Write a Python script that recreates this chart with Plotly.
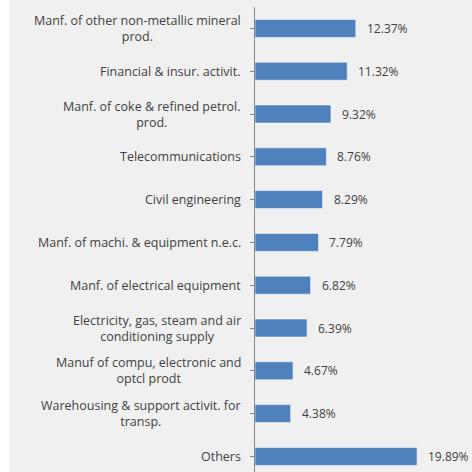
import plotly.graph_objects as go

# Sector shares (%), top to bottom
sectors = [
    "Manf. of other non-metallic mineral<br>prod.",
    "Financial & insur. activit.",
    "Manf. of coke & refined petrol.<br>prod.",
    "Telecommunications",
    "Civil engineering",
    "Manf. of machi. & equipment n.e.c.",
    "Manf. of electrical equipment",
    "Electricity, gas, steam and air<br>conditioning supply",
    "Manuf of compu, electronic and<br>optcl prodt",
    "Warehousing & support activit. for<br>transp.",
    "Others",
]
shares = [12.37, 11.32, 9.32, 8.76, 8.29, 7.79, 6.82, 6.39, 4.67, 4.38, 19.89]

W, H = 472, 472
ML, MR, MT, MB = 255, 7, 7, 0
px_per_unit = 8.15
plot_w = W - ML - MR
x_max = plot_w / px_per_unit

band = 42.8
y_low = -0.5
y_high = y_low + (H - MT - MB) / band

font = "'Open Sans', Lato, sans-serif"
txt = "#3f3f3f"

fig = go.Figure(
    go.Bar(
        x=shares,
        y=list(range(len(sectors))),
        orientation="h",
        marker=dict(color="#4f81bd", line=dict(color="rgba(255,255,255,0.55)", width=1)),
        hoverinfo="skip",
    )
)

# value labels to the right of each bar
for i, v in enumerate(shares):
    fig.add_annotation(
        x=v, y=i, text=f"{v:.2f}%", showarrow=False,
        xanchor="left", xshift=9, yanchor="middle",
        font=dict(family=font, size=12, color=txt),
    )

# category labels, centred line by line, right edge near the axis
for i, name in enumerate(sectors):
    fig.add_annotation(
        xref="paper", x=0, y=i, text=name, showarrow=False,
        xanchor="right", xshift=-12, yanchor="middle", align="center",
        font=dict(family=font, size=12.5, color=txt),
    )

# white strip along the left edge
fig.add_shape(
    type="rect", xref="paper", yref="paper",
    x0=-ML / plot_w - 0.1, x1=(9 - ML) / plot_w, y0=-0.1, y1=1.2,
    fillcolor="white", line=dict(width=0), layer="below",
)

fig.update_layout(
    width=W, height=H,
    margin=dict(l=ML, r=MR, t=MT, b=MB, pad=0),
    paper_bgcolor="#f0f0f0", plot_bgcolor="#f0f0f0",
    bargap=0.58, showlegend=False,
    xaxis=dict(range=[0, x_max], visible=False, fixedrange=True),
    yaxis=dict(
        range=[y_high, y_low],
        tickmode="array", tickvals=list(range(len(sectors))),
        showticklabels=False,
        tickson="boundaries", ticks="outside", ticklen=4, tickcolor="#868686",
        showline=True, linecolor="#868686", linewidth=1,
        showgrid=False, zeroline=False,
        fixedrange=True,
    ),
)

fig.write_html("out.html")
